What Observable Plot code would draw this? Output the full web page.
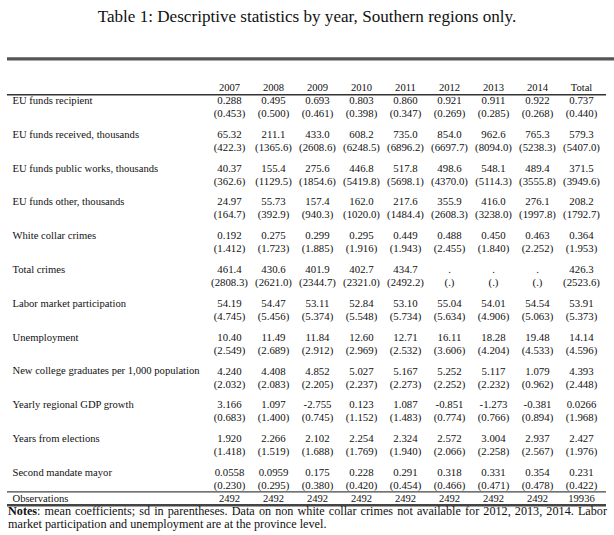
<!DOCTYPE html>
<html>
<head>
<meta charset="utf-8">
<script src="https://cdn.jsdelivr.net/npm/d3@7"></script>
<script src="https://cdn.jsdelivr.net/npm/@observablehq/plot@0.6"></script>
<style>
  html, body { margin: 0; padding: 0; background: #fff; }
  #wrap { position: relative; width: 614px; height: 535px; overflow: hidden; font-family: "Liberation Serif", serif; color: #111; }
  #title { position: absolute; top: 6px; left: 0; width: 614px; text-align: center; font-size: 17.1px; line-height: 22px; }
  #notes { position: absolute; top: 505px; left: 8px; width: 599px; font-size: 12.2px; line-height: 12.6px; }
  #notes .l1 { text-align: justify; text-align-last: justify; }
  #chart { position: absolute; top: 0; left: 0; }
</style>
</head>
<body>
<div id="wrap">
  <div id="chart"></div>
  <div id="title">Table 1: Descriptive statistics by year, Southern regions only.</div>
  <div id="notes">
    <div class="l1"><b>Notes</b>: mean coefficients; sd in parentheses. Data on non white collar crimes not available for 2012, 2013, 2014. Labor</div>
    <div>market participation and unemployment are at the province level.</div>
  </div>
</div>
<script>
// ---- data ----
const columns = ["2007", "2008", "2009", "2010", "2011", "2012", "2013", "2014", "Total"];
const variables = [
  "EU funds recipient",
  "EU funds received, thousands",
  "EU funds public works, thousands",
  "EU funds other, thousands",
  "White collar crimes",
  "Total crimes",
  "Labor market participation",
  "Unemployment",
  "New college graduates per 1,000 population",
  "Yearly regional GDP growth",
  "Years from elections",
  "Second mandate mayor"
];
const recipientMean = [0.288, 0.495, 0.693, 0.803, 0.860, 0.921, 0.911, 0.922, 0.737];
const recipientSd   = [0.453, 0.500, 0.461, 0.398, 0.347, 0.269, 0.285, 0.268, 0.440];
const receivedMean  = [65.32, 211.1, 433.0, 608.2, 735.0, 854.0, 962.6, 765.3, 579.3];
const receivedSd    = [422.3, 1365.6, 2608.6, 6248.5, 6896.2, 6697.7, 8094.0, 5238.3, 5407.0];
const publicMean    = [40.37, 155.4, 275.6, 446.8, 517.8, 498.6, 548.1, 489.4, 371.5];
const publicSd      = [362.6, 1129.5, 1854.6, 5419.8, 5698.1, 4370.0, 5114.3, 3555.8, 3949.6];
const otherMean     = [24.97, 55.73, 157.4, 162.0, 217.6, 355.9, 416.0, 276.1, 208.2];
const otherSd       = [164.7, 392.9, 940.3, 1020.0, 1484.4, 2608.3, 3238.0, 1997.8, 1792.7];
const whiteMean     = [0.192, 0.275, 0.299, 0.295, 0.449, 0.488, 0.450, 0.463, 0.364];
const whiteSd       = [1.412, 1.723, 1.885, 1.916, 1.943, 2.455, 1.840, 2.252, 1.953];
const crimesMean    = [461.4, 430.6, 401.9, 402.7, 434.7, null, null, null, 426.3];
const crimesSd      = [2808.3, 2621.0, 2344.7, 2321.0, 2492.2, null, null, null, 2523.6];
const laborMean     = [54.19, 54.47, 53.11, 52.84, 53.10, 55.04, 54.01, 54.54, 53.91];
const laborSd       = [4.745, 5.456, 5.374, 5.548, 5.734, 5.634, 4.906, 5.063, 5.373];
const unempMean     = [10.40, 11.49, 11.84, 12.60, 12.71, 16.11, 18.28, 19.48, 14.14];
const unempSd       = [2.549, 2.689, 2.912, 2.969, 2.532, 3.606, 4.204, 4.533, 4.596];
const gradMean      = [4.240, 4.408, 4.852, 5.027, 5.167, 5.252, 5.117, 1.079, 4.393];
const gradSd        = [2.032, 2.083, 2.205, 2.237, 2.273, 2.252, 2.232, 0.962, 2.448];
const gdpMean       = [3.166, 1.097, -2.755, 0.123, 1.087, -0.851, -1.273, -0.381, 0.0266];
const gdpSd         = [0.683, 1.400, 0.745, 1.152, 1.483, 0.774, 0.766, 0.894, 1.968];
const electMean     = [1.920, 2.266, 2.102, 2.254, 2.324, 2.572, 3.004, 2.937, 2.427];
const electSd       = [1.418, 1.519, 1.688, 1.769, 1.940, 2.066, 2.258, 2.567, 1.976];
const mayorMean     = [0.0558, 0.0959, 0.175, 0.228, 0.291, 0.318, 0.331, 0.354, 0.231];
const mayorSd       = [0.230, 0.295, 0.380, 0.420, 0.454, 0.466, 0.471, 0.478, 0.422];
const observations  = [2492, 2492, 2492, 2492, 2492, 2492, 2492, 2492, 19936];

const means = [recipientMean, receivedMean, publicMean, otherMean, whiteMean, crimesMean,
               laborMean, unempMean, gradMean, gdpMean, electMean, mayorMean];
const sds   = [recipientSd, receivedSd, publicSd, otherSd, whiteSd, crimesSd,
               laborSd, unempSd, gradSd, gdpSd, electSd, mayorSd];

// ---- layout (row units) ----
const SD_OFFSET = 0.385;
const HEADER_ROW = -0.385;
const OBS_ROW = 11.775;
const TOP_RULE = -1.23;
const HEADER_RULE = -0.17;
const OBS_RULE_TOP = 11.57;
const OBS_RULE_BOTTOM = 11.97;

const fmt = v => v == null ? "." :
  Math.abs(v) >= 100 ? v.toFixed(1) :
  Math.abs(v) >= 10 ? v.toFixed(2) :
  Math.abs(v) >= 1 ? v.toFixed(3) : v.toPrecision(3);

const cells = [];
variables.forEach((name, i) => {
  columns.forEach((col, j) => {
    cells.push({col, row: i, text: fmt(means[i][j])});
    cells.push({col, row: i + SD_OFFSET, text: means[i][j] == null && sds[i][j] == null ? "(.)" : "(" + fmt(sds[i][j]) + ")"});
  });
});
const labels = variables.map((name, i) => ({row: i, text: name}));
const header = columns.map(col => ({col, row: HEADER_ROW, text: col}));
const obs = columns.map((col, j) => ({col, row: OBS_ROW, text: String(observations[j])}));

const chart = Plot.plot({
  width: 614,
  height: 535,
  marginLeft: 7,
  marginRight: 8,
  marginTop: 0,
  marginBottom: 0,
  style: {fontFamily: "'Liberation Serif', serif", fontSize: "10px", color: "#111", background: "transparent"},
  x: {type: "point", domain: columns, range: [227, 583], padding: 0, axis: null},
  y: {type: "linear", domain: [0, 11], range: [100, 472], axis: null},
  marks: [
    Plot.ruleY([TOP_RULE], {stroke: "#555", strokeWidth: 3.2, insetRight: -8}),
    Plot.ruleY([HEADER_RULE], {stroke: "#333", strokeWidth: 1.3}),
    Plot.ruleY([OBS_RULE_TOP], {stroke: "#444", strokeWidth: 1.2}),
    Plot.ruleY([OBS_RULE_BOTTOM], {stroke: "#444", strokeWidth: 2.6}),
    Plot.text(header, {x: "col", y: "row", text: "text", fontSize: 10.6}),
    Plot.text(cells, {x: "col", y: "row", text: "text", fontSize: 10.8}),
    Plot.text(labels, {y: "row", text: "text", frameAnchor: "left", textAnchor: "start", dx: 5, fontSize: 10.6}),
    Plot.text([{row: OBS_ROW, text: "Observations"}], {y: "row", text: "text", frameAnchor: "left", textAnchor: "start", dx: 5, fontSize: 10.6}),
    Plot.text(obs, {x: "col", y: "row", text: "text", fontSize: 10.6})
  ]
});
document.getElementById("chart").appendChild(chart);
</script>
</body>
</html>
